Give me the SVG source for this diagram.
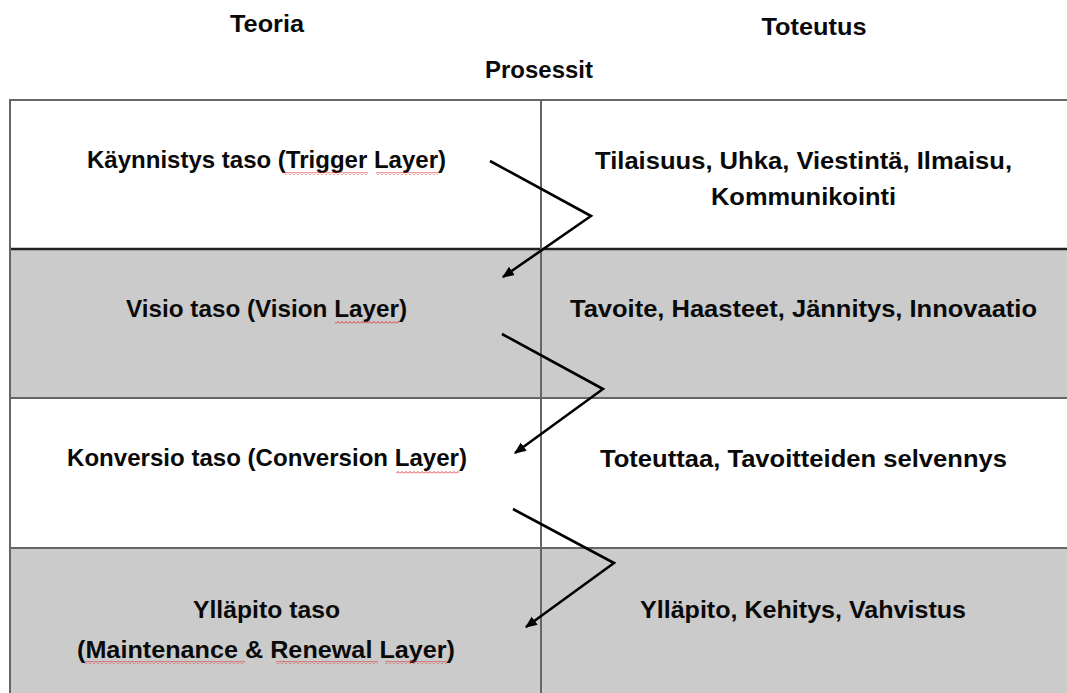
<svg xmlns="http://www.w3.org/2000/svg" width="1067" height="693" viewBox="0 0 1067 693">
  <style>
    .t { font-family: "Liberation Sans", Arial, sans-serif; font-weight: bold; font-size: 24px; fill: #0a0a0a; text-anchor: middle; }
    .grid { stroke: #666; stroke-width: 2; fill: none; }
    .gridDark { stroke: #222; stroke-width: 2.5; fill: none; }
    .white { fill: #ffffff; }
    .gray { fill: #cbcbcb; }
    .conn { stroke: #000; stroke-width: 2.6; fill: none; stroke-linejoin: miter; marker-end: url(#arrow); }
    .sq { fill: url(#squiggle); }
  </style>
  <defs>
    <marker id="arrow" viewBox="0 0 10 10" refX="9" refY="5" markerWidth="12" markerHeight="12" markerUnits="userSpaceOnUse" orient="auto">
      <path d="M0,0.8 L10,5 L0,9.2 z" fill="#000"/>
    </marker>
    <pattern id="squiggle" x="0" y="0" width="4" height="3" patternUnits="userSpaceOnUse">
      <path d="M0,2.5 L2,0.5 L4,2.5" stroke="#e02020" stroke-width="0.9" fill="none"/>
    </pattern>
  </defs>
  <rect width="1067" height="693" fill="#ffffff"/>

  <!-- headers -->
  <g id="header-teoria"><text class="t" x="267" y="32" textLength="74" lengthAdjust="spacingAndGlyphs">Teoria</text></g>
  <g id="header-toteutus"><text class="t" x="814" y="35" textLength="105" lengthAdjust="spacingAndGlyphs">Toteutus</text></g>
  <g id="header-prosessit"><text class="t" x="539" y="78" textLength="108" lengthAdjust="spacingAndGlyphs">Prosessit</text></g>

  <!-- row backgrounds -->
  <g id="table-background">
    <rect class="white" x="10" y="100" width="1057" height="149"/>
    <rect class="gray" x="10" y="249" width="1057" height="149"/>
    <rect class="white" x="10" y="398" width="1057" height="150"/>
    <rect class="gray" x="10" y="548" width="1057" height="150"/>
  </g>

  <!-- grid lines -->
  <g id="table-grid">
    <line class="grid" x1="9" y1="100" x2="1067" y2="100"/>
    <line class="gridDark" x1="9" y1="249" x2="1067" y2="249"/>
    <line class="grid" x1="9" y1="398" x2="1067" y2="398"/>
    <line class="grid" x1="9" y1="548" x2="1067" y2="548"/>
    <line class="grid" x1="10" y1="99" x2="10" y2="693"/>
    <line class="grid" x1="541" y1="99" x2="541" y2="693"/>
  </g>

  <!-- row 1 -->
  <g id="trigger-layer">
    <text class="t" x="266.5" y="168" textLength="359" lengthAdjust="spacingAndGlyphs">Käynnistys taso (Trigger Layer)</text>
    <rect class="sq" x="283" y="172" width="85" height="3"/>
    <rect class="sq" x="376" y="172" width="62" height="3"/>
  </g>
  <g id="trigger-impl">
    <text class="t" x="803.5" y="169" textLength="417" lengthAdjust="spacingAndGlyphs">Tilaisuus, Uhka, Viestintä, Ilmaisu,</text>
    <text class="t" x="803.5" y="205" textLength="185" lengthAdjust="spacingAndGlyphs">Kommunikointi</text>
  </g>

  <!-- row 2 -->
  <g id="vision-layer">
    <text class="t" x="266.5" y="317" textLength="281" lengthAdjust="spacingAndGlyphs">Visio taso (Vision Layer)</text>
    <rect class="sq" x="335" y="321" width="64" height="3"/>
  </g>
  <g id="vision-impl">
    <text class="t" x="803.5" y="317" textLength="467" lengthAdjust="spacingAndGlyphs">Tavoite, Haasteet, Jännitys, Innovaatio</text>
  </g>

  <!-- row 3 -->
  <g id="conversion-layer">
    <text class="t" x="267" y="466" textLength="400" lengthAdjust="spacingAndGlyphs">Konversio taso (Conversion Layer)</text>
    <rect class="sq" x="396" y="471" width="63" height="3"/>
  </g>
  <g id="conversion-impl">
    <text class="t" x="803.5" y="467" textLength="407" lengthAdjust="spacingAndGlyphs">Toteuttaa, Tavoitteiden selvennys</text>
  </g>

  <!-- row 4 -->
  <g id="maintenance-layer">
    <text class="t" x="266.5" y="618" textLength="147" lengthAdjust="spacingAndGlyphs">Ylläpito taso</text>
    <text class="t" x="266" y="658" textLength="378" lengthAdjust="spacingAndGlyphs">(Maintenance &amp; Renewal Layer)</text>
    <rect class="sq" x="85" y="661" width="160" height="3"/>
    <rect class="sq" x="276" y="661" width="102" height="3"/>
    <rect class="sq" x="385" y="661" width="63" height="3"/>
  </g>
  <g id="maintenance-impl">
    <text class="t" x="803" y="618" textLength="326" lengthAdjust="spacingAndGlyphs">Ylläpito, Kehitys, Vahvistus</text>
  </g>

  <!-- connectors -->
  <g id="connectors">
    <polyline class="conn" points="490,161 591,216 503,277"/>
    <polyline class="conn" points="502,334 603,389 515,453"/>
    <polyline class="conn" points="513,509 614,563 526,627"/>
  </g>
</svg>
